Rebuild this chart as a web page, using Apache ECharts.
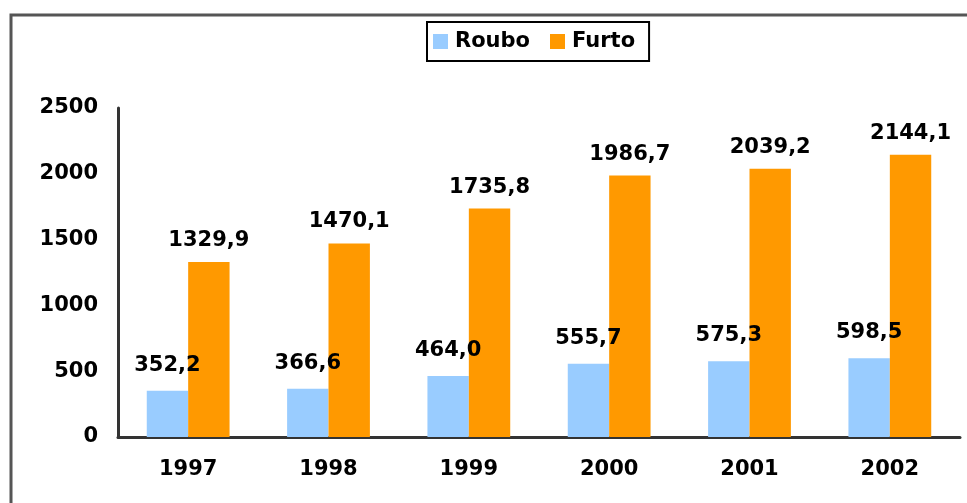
<!doctype html>
<html>
<head>
<meta charset="UTF-8">
<title>Roubo e Furto</title>
<script src="https://cdn.jsdelivr.net/npm/echarts@6/dist/echarts.min.js"></script>
<style>
  html, body { margin: 0; padding: 0; background: #fff; }
  #main { width: 967px; height: 503px; }
</style>
</head>
<body>
<div id="main"></div>
<script>
// dados do grafico
var years = ['1997', '1998', '1999', '2000', '2001', '2002'];
var roubo = [352.2, 366.6, 464.0, 555.7, 575.3, 598.5];
var furto = [1329.9, 1470.1, 1735.8, 1986.7, 2039.2, 2144.1];
var yTicks = [0, 500, 1000, 1500, 2000, 2500];

var font = 'DejaVu Sans';

function fmt(p) {
    return p.value.toFixed(1).replace('.', ',');
}

var myChart = echarts.init(document.getElementById('main'));
var option = {
    backgroundColor: '#fff',
    animation: false,
    textStyle: { fontFamily: font },
    graphic: [{
        type: 'rect',
        shape: { x: 11, y: 15, width: 1000, height: 600 },
        style: { fill: 'none', stroke: '#555', lineWidth: 3 },
        silent: true
    }],
    legend: {
        left: 427,
        top: 22,
        padding: [9, 14, 9, 6],
        borderColor: '#000',
        borderWidth: 2,
        itemWidth: 15,
        itemHeight: 15,
        itemGap: 20,
        icon: 'rect',
        textStyle: { fontFamily: font, fontWeight: 'bold', fontSize: 21, color: '#000', padding: [0, 0, 0, 2] },
        data: ['Roubo', 'Furto']
    },
    grid: {
        left: 118,
        right: 7,
        top: 108,
        bottom: 66,
        containLabel: false,
        outerBoundsMode: 'none'
    },
    xAxis: {
        type: 'category',
        data: years,
        axisLine: { show: true, lineStyle: { color: '#333', width: 3 } },
        axisTick: { show: false },
        axisLabel: { margin: 22, fontFamily: font, fontWeight: 'bold', fontSize: 21, color: '#000' }
    },
    yAxis: {
        type: 'value',
        min: yTicks[0],
        max: yTicks[yTicks.length - 1],
        interval: 500,
        axisLine: { show: true, lineStyle: { color: '#333', width: 3 } },
        axisTick: { show: false },
        splitLine: { show: false },
        axisLabel: {
            margin: 20,
            formatter: function (v) { return String(v); },
            fontFamily: font, fontWeight: 'bold', fontSize: 21, color: '#000'
        }
    },
    series: [
        {
            name: 'Roubo',
            type: 'bar',
            data: roubo,
            barGap: '0%',
            barCategoryGap: '41%',
            itemStyle: { color: '#99CCFF' },
            label: {
                show: true,
                position: 'top',
                distance: 15,
                formatter: fmt,
                fontFamily: font, fontWeight: 'bold', fontSize: 21, color: '#000'
            }
        },
        {
            name: 'Furto',
            type: 'bar',
            data: furto,
            barGap: '0%',
            barCategoryGap: '41%',
            itemStyle: { color: '#FF9900' },
            label: {
                show: true,
                position: 'top',
                distance: 11,
                formatter: fmt,
                fontFamily: font, fontWeight: 'bold', fontSize: 21, color: '#000'
            }
        }
    ]
};
myChart.setOption(option);
</script>
</body>
</html>
